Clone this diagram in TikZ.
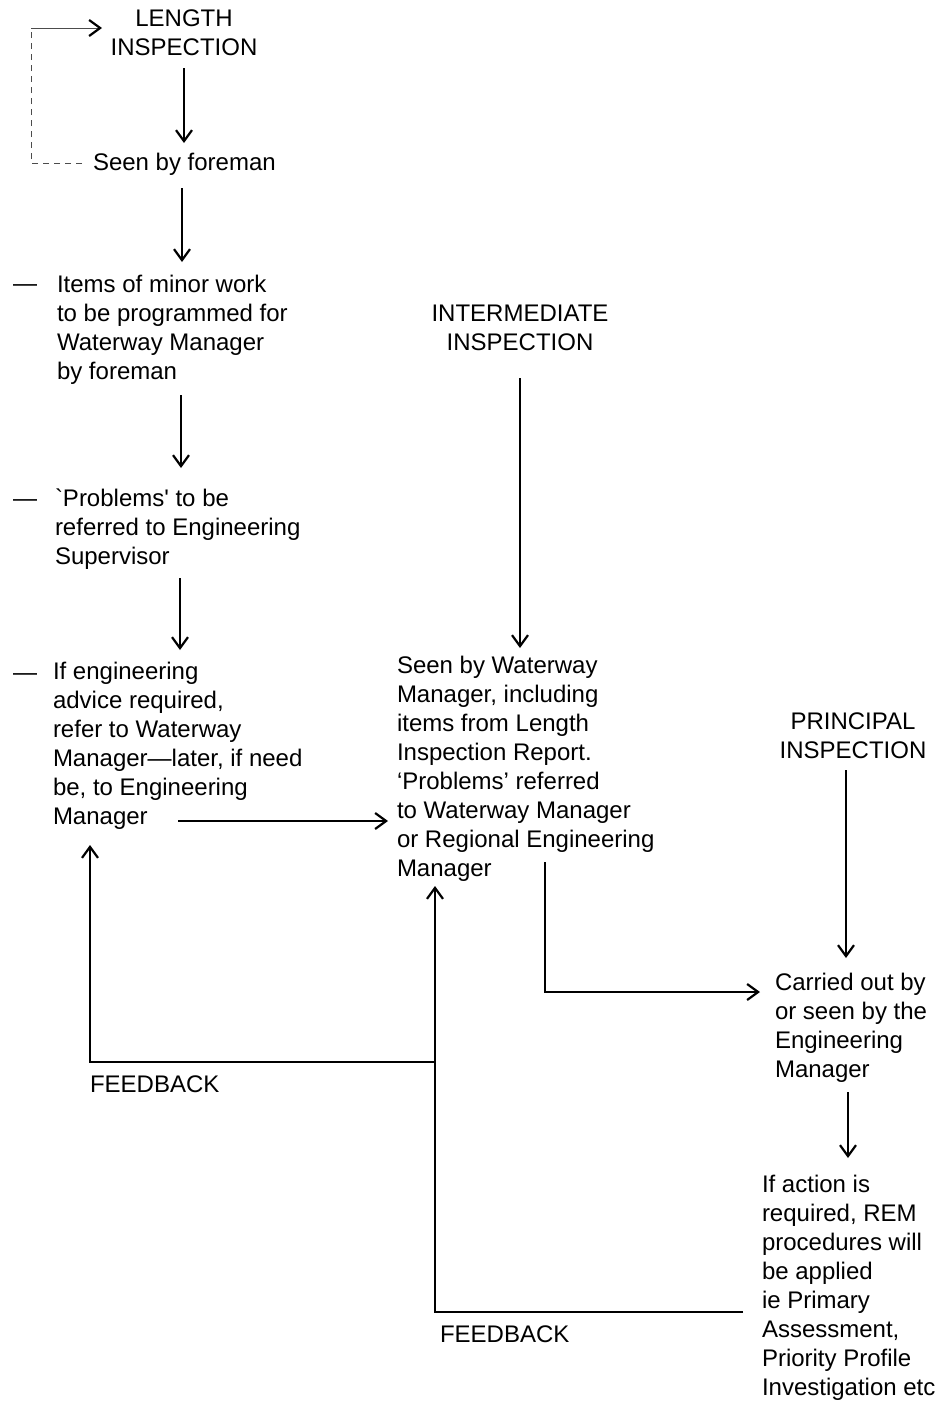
\documentclass[tikz,border=0pt]{standalone}
\usepackage{fontspec}
\setmainfont{Liberation Sans}
\usetikzlibrary{arrows.meta}
\begin{document}
\begin{tikzpicture}[x=1pt,y=-1pt,
  txt/.style={inner sep=0pt,outer sep=0pt,align=left,anchor=north west,
    font=\fontsize{24}{29}\selectfont},
  ctxt/.style={txt,align=center,anchor=north},
  bullet/.style={txt,anchor=center},
  tip/.style={-{Straight Barb[length=11pt,width=16pt,line width=2.2pt]}},
  flow/.style={line width=1.2pt,tip},
  loopline/.style={line width=0.9pt,black!70,dash pattern=on 6pt off 5pt}]
\useasboundingbox (0,0) rectangle (941,1401);

% ---- text blocks ----
\node[ctxt] (lenins) at (184,10) {LENGTH\\INSPECTION};
\node[txt] (foreman) at (93,153) {Seen by foreman};
\node[bullet] (d1) at (25,288) {—};
\node[txt] (minor) at (57,275) {Items of minor work\\to be programmed for\\Waterway Manager\\by foreman};
\node[bullet] (d2) at (25,503) {—};
\node[txt] (probs) at (55,489) {\textasciigrave Problems\textquotesingle{} to be\\referred to Engineering\\Supervisor};
\node[bullet] (d3) at (25,677) {—};
\node[txt] (advice) at (53,662) {If engineering\\advice required,\\refer to Waterway\\Manager—later, if need\\be, to Engineering\\Manager};
\node[ctxt] (intins) at (520,305) {INTERMEDIATE\\INSPECTION};
\node[txt] (wm) at (397,656) {Seen by Waterway\\Manager, including\\items from Length\\Inspection Report.\\`Problems' referred\\to Waterway Manager\\or Regional Engineering\\Manager};
\node[ctxt] (prins) at (853,713) {PRINCIPAL\\INSPECTION};
\node[txt] (em) at (775,973) {Carried out by\\or seen by the\\Engineering\\Manager};
\node[txt] (rem) at (762,1175) {If action is\\required, REM\\procedures will\\be applied\\ie Primary\\Assessment,\\Priority Profile\\Investigation etc};
\node[txt] (fb1) at (90,1076) {FEEDBACK};
\node[txt] (fb2) at (440,1326) {FEEDBACK};

% ---- connector end points ----
\coordinate (a1s) at (184,68);   \coordinate (a1e) at (184,143);
\coordinate (a2s) at (182,188);  \coordinate (a2e) at (182,262);
\coordinate (a3s) at (181,395);  \coordinate (a3e) at (181,468);
\coordinate (a4s) at (180,578);  \coordinate (a4e) at (180,650);
\coordinate (a5s) at (178,821);  \coordinate (a5e) at (388,821);
\coordinate (a6s) at (520,378);  \coordinate (a6e) at (520,648);
\coordinate (a7s) at (545,862);  \coordinate (a7c) at (545,992);
\coordinate (a7e) at (760,992);
\coordinate (a8s) at (846,770);  \coordinate (a8e) at (846,958);
\coordinate (a9s) at (848,1092); \coordinate (a9e) at (848,1158);
% feedback loops
\coordinate (f1j) at (435,1062); \coordinate (f1c) at (90,1062);
\coordinate (f1e) at (90,845);
\coordinate (f2s) at (743,1312); \coordinate (f2c) at (435,1312);
\coordinate (f2e) at (435,886);
% return loop of the length inspection
\coordinate (l0) at (82,163); \coordinate (l1) at (31,163);
\coordinate (l2) at (31,28);  \coordinate (l3) at (102,28);

% ---- connectors ----
\draw[flow] (a1s) -- (a1e);
\draw[flow] (a2s) -- (a2e);
\draw[flow] (a3s) -- (a3e);
\draw[flow] (a4s) -- (a4e);
\draw[flow] (a5s) -- (a5e);
\draw[flow] (a6s) -- (a6e);
\draw[flow] (a7s) -- (a7c) -- (a7e);
\draw[flow] (a8s) -- (a8e);
\draw[flow] (a9s) -- (a9e);
\draw[flow] (f1j) -- (f1c) -- (f1e);
\draw[flow] (f2s) -- (f2c) -- (f2e);
\draw[loopline] (l0) -- (l1) -- (l2);
\draw[line width=0.9pt,black!70] (l2) -- ([xshift=-2pt]l3);
\draw[line width=0.1pt,tip] ([xshift=-3pt]l3) -- (l3);
\end{tikzpicture}
\end{document}
